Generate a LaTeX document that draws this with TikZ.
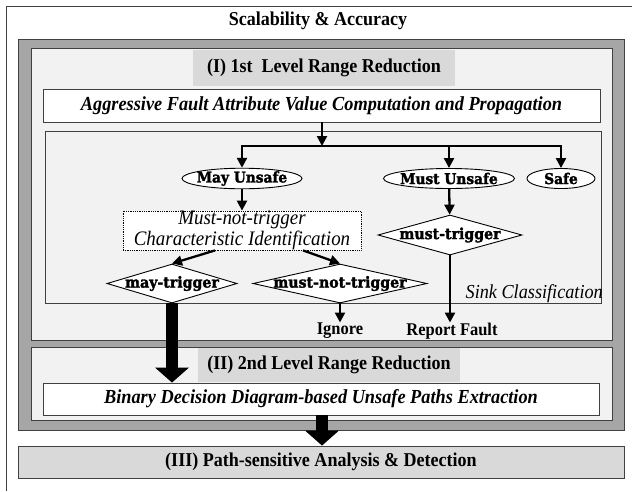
\documentclass[tikz,border=0pt]{standalone}
\usepackage{fontspec}
\setmainfont{Liberation Serif}[FakeStretch=0.92]
\newfontfamily\heavyfont{DejaVu Serif}[FakeStretch=0.93, BoldFeatures={FakeBold=2}]
\usetikzlibrary{shapes.geometric,arrows.meta}
\definecolor{framegray}{HTML}{A6A6A6}
\definecolor{panelgray}{HTML}{F2F2F2}
\definecolor{hdrgray}{HTML}{D9D9D9}
\definecolor{edgegray}{HTML}{404040}
\newcommand{\zb}[1]{\makebox[0pt]{#1}}
\begin{document}
\begin{tikzpicture}[x=1pt,y=-1pt,
  rbox/.style={draw=edgegray, line width=0.8pt, inner sep=0pt},
  hdrbox/.style={fill=hdrgray, inner sep=0pt, font=\fontsize{19.6}{21}\selectfont\bfseries},
  ibox/.style={rbox, fill=white, font=\fontsize{19.9}{21}\selectfont\bfseries\itshape},
  oval/.style={ellipse, draw=black, line width=0.9pt, fill=white, inner sep=0pt, minimum height=20pt, font=\heavyfont\fontsize{14.8}{15}\selectfont\bfseries},
  dmd/.style={diamond, draw=black, line width=0.9pt, fill=white, inner sep=0pt, font=\heavyfont\fontsize{15.2}{16}\selectfont\bfseries},
  lbl/.style={inner sep=0pt, font=\fontsize{17.9}{19}\selectfont\bfseries},
  arr/.style={line width=2.3pt, -{Triangle[width=10pt,length=10pt]}},
  fat/.style={line width=12pt, -{Triangle[width=33pt,length=15pt]}}]
\useasboundingbox (0,0) rectangle (632,491);
\fill[white] (0,0) rectangle (632,491);
% outer frame (cut by the picture edge)
\draw[edgegray, line width=0.9pt] (6,491) -- (6,6) -- (632,6);
\node[inner sep=0pt, font=\fontsize{19.6}{21}\selectfont\bfseries] (title) at (318,21) {Scalability \& Accuracy};
% gray frame and panels
\node[rbox, fill=framegray, minimum width=606pt, minimum height=391pt] (frame) at (321,234.5) {};
\node[rbox, fill=panelgray, minimum width=581pt, minimum height=292pt] (panelA) at (321.5,194) {};
\node[rbox, fill=panelgray, minimum width=581pt, minimum height=73pt] (panelB) at (321.5,383.5) {};
% level I
\node[hdrbox, minimum width=262pt, minimum height=36pt] (hdrA) at (324,68) {(I) 1st\ \ Level Range Reduction};
\node[ibox, minimum width=557pt, minimum height=33pt] (agg) at (321.5,105.5) {Aggressive Fault Attribute Value Computation and Propagation};
\node[rbox, fill=panelgray, minimum width=556pt, minimum height=172pt] (sink) at (323,217) {};
\node[inner sep=0pt, anchor=base east, font=\fontsize{19.8}{21}\selectfont\itshape] (sinklbl) at (603,298.5) {Sink Classification};
\coordinate (split) at (322,146);
\node[oval, minimum width=120pt] (may) at (242,178.5) {\zb{May Unsafe}};
\node[oval, minimum width=131pt] (must) at (449,178.5) {\zb{Must Unsafe}};
\node[oval, minimum width=68pt] (safe) at (561,178.5) {\zb{Safe}};
\node[draw=black, densely dotted, line width=0.8pt, fill=white, inner sep=0pt, minimum width=238pt, minimum height=39pt, align=center, font=\fontsize{20.6}{20.5}\selectfont\itshape] (dot) at (242,230.5) {Must-not-trigger\\Characteristic Identification};
\node[dmd, minimum width=144pt, minimum height=40pt] (musttrig) at (450,235) {\zb{must-trigger}};
\node[dmd, minimum width=130pt, minimum height=39pt] (maytrig) at (172,283.5) {\zb{may-trigger}};
\node[dmd, minimum width=174pt, minimum height=39pt] (mustnot) at (340,283.5) {\zb{must-not-trigger}};
\node[lbl, anchor=north] (ignore) at (340,322.5) {Ignore};
\node[lbl, anchor=north] (report) at (452,322.5) {Report Fault};
% level II
\node[hdrbox, minimum width=262pt, minimum height=34pt] (hdrB) at (329,365) {(II) 2nd Level Range Reduction};
\node[ibox, minimum width=556pt, minimum height=32pt] (bdd) at (321,399) {Binary Decision Diagram-based Unsafe Paths Extraction};
% level III
\node[rbox, fill=hdrgray, minimum width=606pt, minimum height=32pt, font=\fontsize{19.6}{21}\selectfont\bfseries] (pathsa) at (321,462) {(III) Path-sensitive Analysis \& Detection};
% connectors
\draw[arr] (agg.south -| split) -- (split);
\draw[arr] (split) -| (may.north);
\draw[arr] (split) -| (must.north);
\draw[arr] (split) -| (safe.north);
\draw[arr] (may) -- (dot);
\draw[arr] (must) -- (musttrig);
\draw[arr] ([xshift=-27pt]dot.south) -- (maytrig.north);
\draw[arr] ([xshift=61pt]dot.south) -- (mustnot.north);
\draw[arr] (mustnot.south) -- (ignore.north);
\draw[arr] (musttrig.south) -- (musttrig.south |- report.north);
\draw[fat] (maytrig.south) -- (maytrig.south |- bdd.north);
\draw[fat] (bdd.south -| 322,0) -- (pathsa.north -| 322,0);
\end{tikzpicture}
\end{document}
